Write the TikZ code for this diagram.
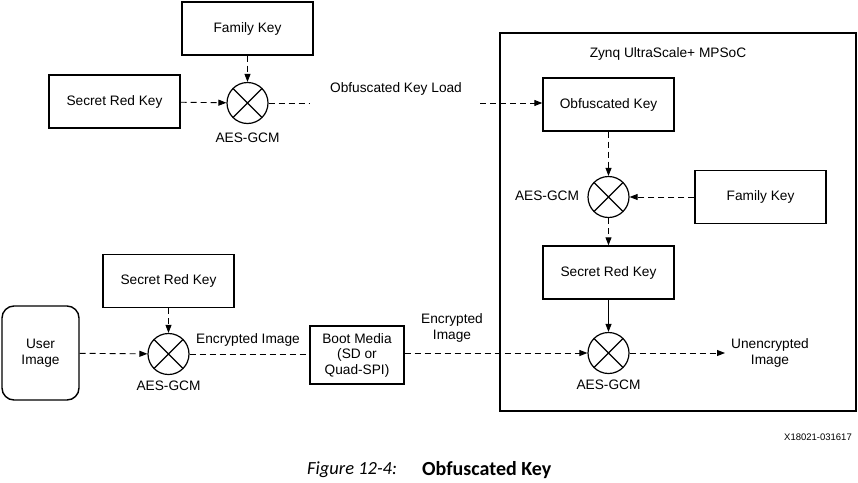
\documentclass[tikz,border=0pt]{standalone}
\usepackage{fontspec}
\setmainfont{Liberation Sans}
\newfontfamily\capfont{Carlito}
\usetikzlibrary{arrows.meta}
\begin{document}
\begin{tikzpicture}[x=1pt,y=-1pt,
  keybox/.style={draw,line width=1.4pt,minimum width=131pt,minimum height=53pt,inner sep=0pt,font=\fontsize{13.7}{15.5}\selectfont,align=center},
  lbl/.style={font=\fontsize{13.7}{15.5}\selectfont,align=center,inner sep=1pt},
  xorop/.style={draw,circle,line width=1.2pt,minimum size=41pt,inner sep=0pt,
    path picture={\draw[line width=1.2pt] (path picture bounding box.center) +(45:21) -- +(225:21)
      (path picture bounding box.center) +(135:21) -- +(315:21);}},
  dline/.style={line width=0.9pt,dash pattern=on 6pt off 4pt},
  arr/.style={-{Triangle[length=8pt,width=6pt]}},
]
\useasboundingbox (0,0) rectangle (858,482);
% outer device box
\node[draw,line width=1.4pt,minimum width=356pt,minimum height=378pt,inner sep=0pt] (soc) at (678,222) {};
\node[lbl] (soct) at (668,54) {Zynq UltraScale+ MPSoC};
% top left
\node[keybox] (fk1) at (247.5,28.5) {Family Key};
\node[keybox] (sk1) at (114.5,101.5) {Secret Red Key};
\node[xorop] (x1) at (247.5,103) {};
\node[lbl] (a1) at (247.5,138) {AES-GCM};
\coordinate (e1) at (310,103);
\node[lbl] (okl) at (396,89) {Obfuscated Key Load};
\coordinate (s1) at (480,103);
% device internals
\node[keybox] (ok) at (608.5,104.5) {Obfuscated Key};
\node[xorop] (x2) at (608.5,197) {};
\node[lbl] (a2) at (547,196) {AES-GCM};
\node[keybox] (fk2) at (760.5,197) {Family Key};
\node[keybox] (sk2) at (608.5,272.5) {Secret Red Key};
\node[xorop] (x3) at (608.5,353) {};
\node[lbl] (a3) at (608.5,385) {AES-GCM};
\coordinate (e3) at (725,353);
\node[lbl] (ui) at (770,353) {Unencrypted\\Image};
% bottom left
\node[draw,line width=1.4pt,rounded corners=12pt,minimum width=77pt,minimum height=94pt,inner sep=0pt,font=\fontsize{13.7}{15.5}\selectfont,align=center] (user) at (40.5,353) {User\\Image};
\node[keybox] (sk3) at (168.5,281) {Secret Red Key};
\node[xorop] (x4) at (168.5,354) {};
\node[lbl] (a4) at (168.5,386) {AES-GCM};
\node[lbl] (ei1) at (248,340) {Encrypted Image};
\node[keybox,minimum width=94pt,minimum height=58pt] (bm) at (357,355) {Boot Media\\(SD or\\Quad-SPI)};
\node[lbl] (ei2) at (452,328) {Encrypted\\Image};
% connectors
\draw[dline,arr] (fk1) -- (x1);
\draw[dline,arr] (sk1) -- (x1);
\draw[dline] (x1) -- (e1);
\draw[dline,arr] (s1) -- (s1 -| ok.west);
\draw[dline,arr] (ok) -- (x2);
\draw[dline,arr] (fk2) -- (x2);
\draw[dline,arr] (x2) -- (sk2);
\draw[line width=0.9pt,arr] (sk2) -- (x3);
\draw[dline,arr] (x3) -- (e3);
\draw[dline,arr] (user) -- (x4);
\draw[dline,arr] (sk3) -- (x4);
\draw[dline] (x4) -- (x4 -| bm.west);
\draw[dline,arr] (bm.east |- x3) -- (x3);
% footer
\node[font=\fontsize{9.5}{11}\selectfont,anchor=east,inner sep=0pt] (code) at (852,437) {X18021-031617};
\node[font=\capfont\fontsize{18.5}{21}\selectfont\itshape,anchor=west,inner sep=0pt] (capa) at (307,470) {Figure 12-4:};
\node[font=\capfont\fontsize{20}{22}\selectfont\bfseries,anchor=west,inner sep=0pt] (capb) at (422,470) {Obfuscated Key};
\end{tikzpicture}
\end{document}
